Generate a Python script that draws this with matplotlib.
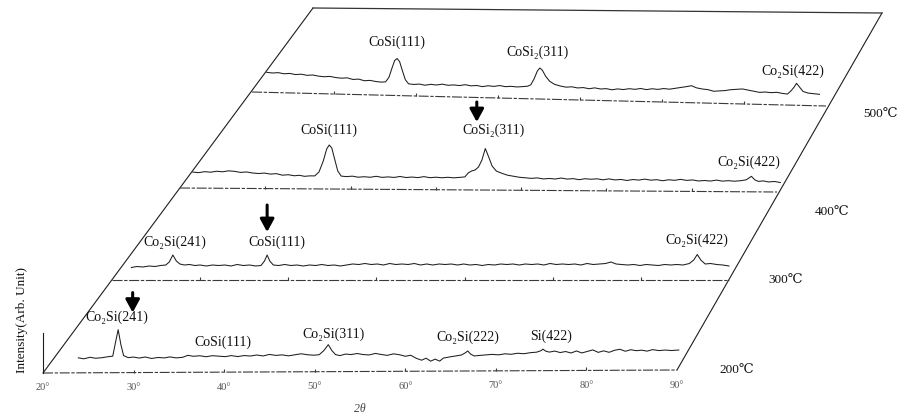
import numpy as np
import matplotlib
matplotlib.use('Agg')
import matplotlib.pyplot as plt
from matplotlib.transforms import Affine2D

SERIF = ['Liberation Serif', 'DejaVu Serif', 'DejaVu Sans']

# --- XRD traces: 2theta (deg) and intensity (arb. unit) for each anneal ---
theta_200 = [23.9, 24.5, 25.2, 25.8, 26.5, 27.2, 27.7, 28.0, 28.3, 28.6, 28.9, 29.4,
             30.0, 30.6, 31.3, 32.0, 32.7, 33.4, 34.0, 34.7, 35.4, 36.0, 36.6, 37.3,
             38.0, 38.7, 39.4, 40.1, 40.8, 41.5, 42.2, 42.9, 43.6, 44.3, 45.0, 45.7,
             46.4, 47.1, 47.8, 48.5, 49.2, 49.9, 50.5, 51.0, 51.5, 51.9, 52.3, 52.8,
             53.4, 54.0, 54.7, 55.3, 56.0, 56.7, 57.3, 58.0, 58.7, 59.4, 60.0, 60.6,
             61.2, 61.8, 62.3, 62.8, 63.3, 63.8, 64.2, 64.8, 65.5, 66.2, 66.6, 66.9,
             67.2, 67.6, 68.2, 68.9, 69.6, 70.3, 71.0, 71.7, 72.4, 73.1, 73.8, 74.5,
             75.0, 75.2, 75.5, 75.9, 76.5, 77.1, 77.7, 78.3, 78.9, 79.5, 80.1, 80.7,
             81.3, 81.9, 82.5, 83.1, 83.7, 84.3, 84.9, 85.5, 86.1, 86.7, 87.3, 88.0,
             88.7, 89.4, 90.2]
int_200 = [15, 14, 15.5, 14.5, 15, 16, 16.5, 30, 43, 28, 17, 15,
           15.5, 14.5, 15.5, 14, 15, 14.5, 15.5, 14.5, 15, 17, 16, 16.5,
           15.5, 16.5, 16, 15.5, 16.5, 15.5, 16.5, 16, 17, 16, 17.5, 16.5,
           17, 16, 17, 18, 17, 16.5, 17, 21, 27, 21, 17, 16,
           17.5, 17, 18, 17, 16.5, 18, 17, 16, 17.5, 16.5, 15, 16,
           13, 11, 13, 10, 12, 10, 13, 14, 15, 16, 18, 20,
           17, 15, 15.5, 16, 16.5, 16, 17, 16.5, 17.5, 17, 18, 18.5,
           20, 21.5, 19.5, 18.5, 19.5, 18, 19, 17.5, 19.5, 17.5, 19, 20.5,
           18, 19.5, 18, 20, 21, 19, 20.5, 19.5, 20, 19, 20.5, 19.5,
           20, 19.5, 20]

theta_300 = [22.2, 22.8, 23.5, 24.2, 24.9, 25.5, 26.1, 26.5, 26.9, 27.3, 27.7, 28.2,
             28.8, 29.4, 30.0, 30.7, 31.4, 32.1, 32.8, 33.5, 34.2, 34.9, 35.6, 36.3,
             36.9, 37.3, 37.6, 37.9, 38.3, 38.9, 39.6, 40.3, 41.0, 41.7, 42.4, 43.1,
             43.8, 44.5, 45.2, 45.9, 46.6, 47.3, 48.0, 48.7, 49.4, 50.1, 50.8, 51.5,
             52.2, 52.9, 53.6, 54.3, 55.0, 55.7, 56.4, 57.1, 57.8, 58.5, 59.2, 59.9,
             60.6, 61.3, 62.0, 62.7, 63.4, 64.1, 64.8, 65.5, 66.2, 66.9, 67.6, 68.3,
             69.0, 69.7, 70.4, 71.1, 71.8, 72.5, 73.2, 73.9, 74.6, 75.3, 76.0, 76.6,
             77.2, 77.8, 78.5, 79.2, 79.9, 80.6, 81.3, 82.0, 82.7, 83.4, 84.1, 84.8,
             85.5, 86.0, 86.4, 86.8, 87.3, 87.9, 88.6, 89.3, 90.0]
int_300 = [12.5, 13.5, 13, 14, 13.5, 14.5, 15, 18, 25, 19, 16, 15,
           15.5, 14.5, 15, 14, 15, 14.5, 15, 14, 15.5, 14.5, 15, 14,
           14.5, 19, 25, 19, 15, 14.5, 15.5, 14.5, 15, 14, 15, 14.5,
           15.5, 14.5, 15, 14, 15, 16, 15.5, 16.5, 15.5, 16, 15, 16.5,
           15.5, 16, 15.5, 16.5, 15, 16, 15, 16, 15.5, 16, 15, 16,
           15, 15.5, 14.5, 15.5, 15, 16, 15.5, 16, 15, 16, 15.5, 16,
           15, 16.5, 15.5, 16, 15.5, 16, 15, 16.5, 15.5, 16, 16.5, 18,
           16, 15.5, 15, 15.5, 14.5, 15.5, 15, 14.5, 15.5, 15, 15.5, 15,
           16.5, 20, 25.5, 20, 16, 16.5, 15.5, 15, 14]

theta_400 = [21.5, 22.2, 22.9, 23.6, 24.3, 25.0, 25.7, 26.4, 27.1, 27.8, 28.5, 29.2,
             29.9, 30.6, 31.3, 32.0, 32.7, 33.4, 34.0, 34.6, 35.2, 35.8, 36.3, 36.8,
             37.2, 37.5, 37.8, 38.1, 38.5, 38.9, 39.5, 40.2, 40.9, 41.6, 42.3, 43.0,
             43.7, 44.4, 45.1, 45.8, 46.5, 47.2, 47.9, 48.6, 49.3, 50.0, 50.7, 51.4,
             52.1, 52.8, 53.4, 53.8, 54.2, 54.6, 55.0, 55.4, 55.8, 56.2, 56.6, 57.1,
             57.7, 58.4, 59.1, 59.8, 60.5, 61.2, 61.9, 62.6, 63.3, 64.0, 64.7, 65.4,
             66.1, 66.8, 67.5, 68.2, 68.9, 69.6, 70.3, 71.0, 71.7, 72.4, 73.1, 73.8,
             74.5, 75.2, 75.9, 76.6, 77.3, 78.0, 78.7, 79.4, 80.1, 80.8, 81.5, 82.2,
             82.9, 83.6, 84.3, 85.0, 85.7, 86.4, 87.0, 87.4, 87.8, 88.4, 89.0, 89.7,
             90.4]
int_400 = [16, 15.5, 16.5, 16, 17, 16.5, 17.5, 17, 16, 16.5, 15.5, 15,
           15.5, 14.5, 15, 13.5, 14, 13, 13.5, 12.5, 13, 13, 17, 28,
           40, 44, 41, 31, 18, 13, 12.5, 13, 12, 12.5, 12, 13,
           12, 12.5, 12, 13, 12, 12.5, 12, 13, 12, 12.5, 12, 12.5,
           12, 12.5, 13, 17, 19, 20, 23, 30, 41.5, 33, 24, 19,
           17, 15, 14, 13, 12.5, 12, 12.5, 11.5, 12, 11.5, 12.5, 11.5,
           12, 11, 12, 11.5, 12, 11, 12, 11, 11.5, 10.5, 11.5, 11,
           12, 11, 11.5, 10.5, 11.5, 11, 12, 11, 11.5, 10.5, 11, 10.5,
           11.5, 10.5, 11, 10.5, 11, 12, 15.5, 12, 10.5, 11, 10, 10.5,
           9.5]

theta_500 = [21.8, 22.5, 23.2, 23.9, 24.6, 25.3, 26.0, 26.7, 27.4, 28.1, 28.8, 29.5,
             30.2, 30.9, 31.6, 32.3, 33.0, 33.7, 34.4, 35.1, 35.8, 36.3, 36.7, 37.1,
             37.4, 37.7, 38.0, 38.3, 38.7, 39.1, 39.7, 40.4, 41.1, 41.8, 42.5, 43.2,
             43.9, 44.6, 45.3, 46.0, 46.7, 47.4, 48.1, 48.8, 49.5, 50.2, 50.9, 51.6,
             52.3, 53.0, 53.6, 54.0, 54.4, 54.8, 55.1, 55.4, 55.8, 56.3, 56.9, 57.6,
             58.3, 59.0, 59.7, 60.4, 61.1, 61.8, 62.5, 63.2, 63.9, 64.6, 65.3, 66.0,
             66.7, 67.4, 68.1, 68.8, 69.5, 70.2, 70.9, 71.6, 72.3, 73.0, 73.6, 74.2,
             74.9, 75.6, 76.3, 77.0, 77.7, 78.4, 79.1, 79.8, 80.5, 81.2, 81.9, 82.6,
             83.3, 84.0, 84.7, 85.3, 85.7, 86.1, 86.4, 86.8, 87.2, 87.8, 88.5, 89.2]
int_500 = [20, 19.5, 20, 19, 19.5, 18.5, 19, 18, 18.5, 17.5, 17, 17.5,
           16.5, 16, 16.5, 15, 15.5, 14, 14.5, 13.5, 13, 13.5, 18, 28,
           35, 37, 34, 26, 16, 12, 11.5, 12, 11, 12, 11.5, 12.5,
           11.5, 12, 11.5, 12.5, 11.5, 12, 11, 12, 11.5, 12.5, 11.5, 12,
           11.5, 12, 12.5, 14, 20, 28, 31, 29, 23, 18, 15, 13.5,
           12.5, 13, 12, 12.5, 11.5, 12.5, 11.5, 12, 11, 12, 11.5, 12.5,
           12, 13, 12, 13, 12.5, 13.5, 13, 14, 15, 16, 17, 15,
           14, 13.5, 12, 12.5, 13, 14, 14.5, 15, 14, 13, 12, 12.5,
           12, 12.5, 11.5, 11, 14, 18, 22, 18, 14, 12.5, 12, 11.5]

traces = [(theta_200, int_200), (theta_300, int_300),
          (theta_400, int_400), (theta_500, int_500)]
temps = ['200℃', '300℃', '400℃', '500℃']
tick_deg = [20, 30, 40, 50, 60, 70, 80, 90]
tick_labels = ['20°', '30°', '40°', '50°', '60°', '70°', '80°', '90°']

peak_names = [
    ['Co₂Si(241)', 'CoSi(111)', 'Co₂Si(311)', 'Co₂Si(222)', 'Si(422)'],
    ['Co₂Si(241)', 'CoSi(111)', 'Co₂Si(422)'],
    ['CoSi(111)', 'CoSi₂(311)', 'Co₂Si(422)'],
    ['CoSi(111)', 'CoSi₂(311)', 'Co₂Si(422)'],
]

# label anchors (2theta, height above row axis)
peak_label_pos = [
    [(28.1, 55), (39.9, 30), (52.1, 37), (66.9, 34), (76.1, 34)],
    [(27.1, 38), (38.7, 38), (86.3, 40)],
    [(37.4, 59), (56.8, 60), (86.7, 30)],
    [(37.7, 53), (54.8, 47), (85.9, 34)],
]
# downward arrows marking newly appearing phases: (2theta, top, tip)
arrows = [(29.9, 80, 60), (37.6, 75, 48), (54.8, 88, 68), None]

# pixel geometry of each row axis: x at 20deg, x at 90deg, y at 20deg, y at 90deg
row_geom = [(43, 677, 373, 370), (112, 729, 280, 280),
            (180, 777, 188, 192), (252, 826, 92, 106)]
top_geom = (313, 882, 8, 13)
temp_pos = [(94.7, 0), (94.5, 0), (94.4, -20), (94.5, -7)]


def row_transform(ax, geom):
    x0, x1, y0, y1 = geom
    sx = (x1 - x0) / 70.0
    sl = (y1 - y0) / 70.0
    # (2theta, intensity) -> oblique page position
    aff = Affine2D.from_values(sx, sl, 0, -1, x0 - 20 * sx, y0 - 20 * sl)
    return aff + ax.transData


fig = plt.figure(figsize=(9.03, 4.17), dpi=100)
ax = fig.add_axes([0, 0, 1, 1])
ax.set_xlim(0, 903)
ax.set_ylim(417, 0)
ax.axis('off')

ink = '#1e1e1e'

# oblique frame
ax.plot([row_geom[0][0], top_geom[0]], [row_geom[0][2], top_geom[2]], color=ink, lw=0.8)
ax.plot([row_geom[0][1], top_geom[1]], [row_geom[0][3], top_geom[3]], color=ink, lw=0.8)
ax.plot([top_geom[0], top_geom[1]], [top_geom[2], top_geom[3]], color='#333333', lw=0.9)

for k, (th, inten) in enumerate(traces):
    tr = row_transform(ax, row_geom[k])
    # row axis with small ticks every 10 deg
    ax.plot([20, 90], [0, 0], transform=tr, color='#3a3a3a', lw=0.8,
            dashes=(9, 1.5, 3, 1.5))
    ax.vlines(tick_deg[1:-1], 0, 3, transform=tr, color='#3a3a3a', lw=0.8)
    ax.plot(th, inten, transform=tr, color=ink, lw=0.75)

    for name, (pt, ph) in zip(peak_names[k], peak_label_pos[k]):
        ax.text(pt, ph, name, transform=tr, ha='center', va='center',
                fontsize=10, family=SERIF, color='#111111')

    tt, th_off = temp_pos[k]
    ax.text(tt, th_off, temps[k], transform=tr, ha='left', va='center',
            fontsize=9.5, family=SERIF, color='#111111')

    if arrows[k] is not None:
        at, a0, a1 = arrows[k]
        ax.annotate('', xy=(at, a1), xytext=(at, a0), xycoords=tr, textcoords=tr,
                    arrowprops=dict(arrowstyle='-|>,head_length=0.55,head_width=0.3',
                                    lw=2.2, color='black', shrinkA=0, shrinkB=0,
                                    mutation_scale=14))

# intensity axis and 2theta scale on the front row
tr0 = row_transform(ax, row_geom[0])
ax.plot([20, 20], [0, 40], transform=tr0, color=ink, lw=0.8)
for d, lab in zip(tick_deg, tick_labels):
    ax.text(d, -15, lab, transform=tr0, ha='center', va='center',
            fontsize=7.5, family=SERIF, color='#555555')
ax.text(55, -37, '2θ', transform=tr0, ha='center', va='center',
        fontsize=8.5, family=SERIF, color='#444444', style='italic')
ax.text(22, 373, 'Intensity(Arb. Unit)', rotation=90, ha='center', va='bottom',
        fontsize=9.5, family=SERIF, color='#111111')

fig.savefig('out.png', dpi=100)
